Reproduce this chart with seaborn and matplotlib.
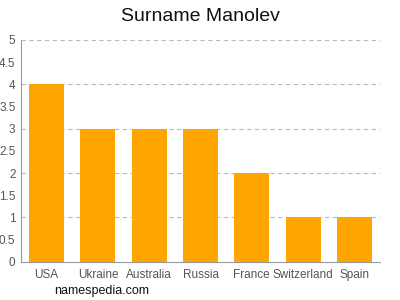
import matplotlib
matplotlib.use("Agg")
import matplotlib.pyplot as plt
import seaborn as sns
import pandas as pd
import numpy as np

countries = ["USA", "Ukraine", "Australia", "Russia", "France", "Switzerland", "Spain"]
counts = [4, 3, 3, 3, 2, 1, 1]
yticks = [0, 0.5, 1, 1.5, 2, 2.5, 3, 3.5, 4, 4.5, 5]
ytick_labels = ["0", "0.5", "1", "1.5", "2", "2.5", "3", "3.5", "4", "4.5", "5"]

sns.set_style("white")
plt.rcParams['font.family'] = ['Liberation Sans', 'DejaVu Sans']

df = pd.DataFrame({"country": countries, "count": counts})
fig = plt.figure(figsize=(4, 3), dpi=100)
ax = fig.add_axes([0.0525, 0.127, 0.8975, 0.74])
sns.barplot(data=df, x="country", y="count", color="#ffa500", saturation=1, width=0.68,
            linewidth=0, edgecolor="none", ax=ax, zorder=3)

ax.set_ylim(0, 5)
ax.set_xlim(-0.5, len(countries) - 0.5)
ax.set_yticks(yticks)
ax.set_yticklabels(ytick_labels)
for y in [1, 2, 3, 4, 5]:
    ax.axhline(y, color="#bbbbbb", linestyle=(0, (4, 3)), linewidth=0.8, zorder=1)
ax.set_xlabel("")
ax.set_ylabel("")
for s in ["top", "right"]:
    ax.spines[s].set_visible(False)
for s in ["left", "bottom"]:
    ax.spines[s].set_color("#999999")
    ax.spines[s].set_linewidth(0.8)
ax.tick_params(axis="both", labelsize=8.5, colors="#555555", length=3, width=0.6, direction="out")
ax.tick_params(axis="y", pad=1)
ax.tick_params(axis="x", pad=2)
for lbl in ax.get_xticklabels() + ax.get_yticklabels():
    lbl.set_color("#555555")

fig.text(0.5, 0.945, "Surname Manolev", ha="center", va="center", fontsize=14, color="#111111")
fig.text(0.135, 0.03, "namespedia.com", ha="left", va="center", fontsize=9, color="#111111")

fig.savefig("out.png", dpi=100)
